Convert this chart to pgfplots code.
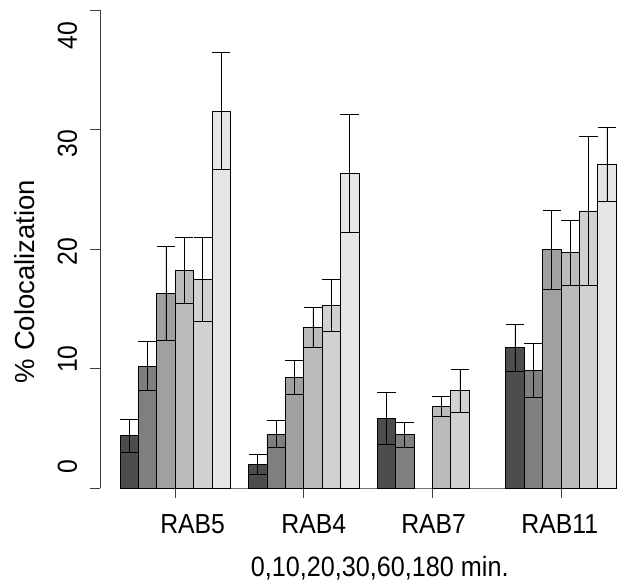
\documentclass[border=0pt]{standalone}
\usepackage{fontspec}
\setmainfont{Liberation Sans}[FakeStretch=0.9]
\newfontfamily\labfont{Liberation Sans}
\usepackage{pgfplots}
\pgfplotsset{compat=1.18}

% R gray.colors(6)
\definecolor{g1}{HTML}{4D4D4D}
\definecolor{g2}{HTML}{7F7F7F}
\definecolor{g3}{HTML}{A0A0A0}
\definecolor{g4}{HTML}{BBBBBB}
\definecolor{g5}{HTML}{D1D1D1}
\definecolor{g6}{HTML}{E6E6E6}

\begin{document}
\begin{tikzpicture}
\path[use as bounding box] (0,0) rectangle (619pt,-582pt);
\begin{axis}[
    at={(100pt,-488.3pt)}, anchor=south west,
    scale only axis,
    width=516pt, height=478.3pt,
    xmin=-1.09, xmax=27,
    ymin=0, ymax=40,
    axis x line=bottom, axis y line=left,
    axis line style={-, black!75, line width=0.7pt},
    x axis line style={draw=none},
    tick align=outside,
    major tick length=10pt,
    tick style={black!75, line width=0.7pt},
    xtick={3,10,17,24}, xticklabels={,,,},
    extra x ticks={3.95,10.55,17.07,23.94},
    extra x tick labels={RAB5,RAB4,RAB7,RAB11},
    extra x tick style={tick style={draw=none}},
    xticklabel style={anchor=base, yshift=-35pt},
    ytick={0,10,20,30,40}, yticklabels={,,,,},
    extra y ticks={1.78,10.8,19.82,28.83,37.85},
    extra y tick labels={0,10,20,30,40},
    extra y tick style={tick style={draw=none}},
    yticklabel style={xshift=-13pt, rotate=90, anchor=base},
    /pgf/number format/assume math mode=true,
    tick label style={font=\fontsize{27.5}{33}\selectfont},
    xlabel={0,10,20,30,60,180 min.},
    xlabel style={font=\fontsize{28}{34}\selectfont, at={(axis description cs:0.542,0)}, anchor=base, yshift=-88pt},
    ylabel={\labfont\% Colocalization},
    ylabel style={font=\fontsize{27.5}{33}\selectfont, at={(axis description cs:-0.126,0.4326)}, anchor=base, rotate=0},
    clip=false,
    every axis plot/.append style={ybar, bar width=1, bar shift=0pt, draw=black, line width=0.6pt},
    error bars/y dir=both,
    error bars/y explicit,
    error bars/error bar style={black, line width=0.6pt},
    error bars/error mark options={black, line width=0.6pt, mark size=9.18pt, rotate=90},
]
\addplot[sharp plot, draw=black!55, line width=0.7pt, error bars/y dir=none] coordinates {(0,0) (27,0)};
\addplot[fill=g1] coordinates {(0.5,4.4) +- (0,1.37) (7.5,2.0) +- (0,0.82) (14.5,5.85) +- (0,2.2) (21.5,11.76) +- (0,1.97)};
\addplot[fill=g2] coordinates {(1.5,10.22) +- (0,2.05) (8.5,4.54) +- (0,1.15) (15.5,4.5) +- (0,1.05) (22.5,9.87) +- (0,2.24)};
\addplot[fill=g3] coordinates {(2.5,16.3) +- (0,3.9) (9.5,9.28) +- (0,1.45) (23.5,19.95) +- (0,3.27)};
\addplot[fill=g4] coordinates {(3.5,18.25) +- (0,2.75) (10.5,13.5) +- (0,1.67) (17.5,6.85) +- (0,0.82) (24.5,19.7) +- (0,2.7)};
\addplot[fill=g5] coordinates {(4.5,17.5) +- (0,3.5) (11.5,15.33) +- (0,2.17) (18.5,8.16) +- (0,1.8) (25.5,23.2) +- (0,6.2)};
\addplot[fill=g6] coordinates {(5.5,31.55) +- (0,4.9) (12.5,26.34) +- (0,4.97) (26.5,27.09) +- (0,3.1)};
\end{axis}
\end{tikzpicture}
\end{document}
